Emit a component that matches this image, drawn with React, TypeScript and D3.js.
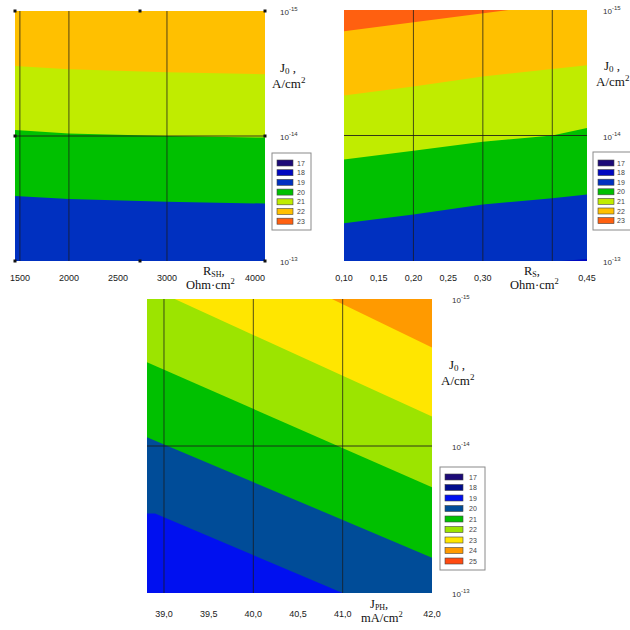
import React from 'react';
import * as d3 from 'd3';

// ---- shared J0 axis ----
const j0Domain = [1e-15, 1e-13];
const j0Ticks = [1e-15, 1e-14, 1e-13];
const j0Exp = ['-15', '-14', '-13'];

// ---- panel 1: R_SH, Ohm·cm² ----
const rshDomain = [1450, 4000];
const rshTicks = [1500, 2000, 2500, 3000, 4000];
const rshGrid = [1500, 2000, 3000];
const rsh_22_21 = [[1450, 2.75e-15], [2000, 2.92e-15], [3000, 3.09e-15], [4000, 3.2e-15]];
const rsh_21_20 = [[1450, 8.95e-15], [2000, 9.55e-15], [3000, 1.0e-14], [4000, 1.03e-14]];
const rsh_20_19 = [[1450, 3.02e-14], [2000, 3.19e-14], [3000, 3.36e-14], [4000, 3.47e-14]];
const levelsA = ['17', '18', '19', '20', '21', '22', '23'];
const colorsA = ['#1c0a78', '#0008c0', '#0030c0', '#00c000', '#c0ec00', '#ffc000', '#ff6010'];

// ---- panel 2: R_S, Ohm·cm² ----
const rsDomain = [0.1, 0.45];
const rsTicks = [0.1, 0.15, 0.2, 0.25, 0.3, 0.45];
const rsGrid = [0.2, 0.3, 0.4];
const rs_23_22 = [[0.1, 1.48e-15], [0.337, 1e-15]];
const rs_22_21 = [[0.1, 4.79e-15], [0.2, 4.07e-15], [0.3, 3.39e-15], [0.4, 2.95e-15], [0.45, 2.75e-15]];
const rs_21_20 = [[0.1, 1.55e-14], [0.2, 1.32e-14], [0.3, 1.12e-14], [0.4, 1.0e-14], [0.45, 8.7e-15]];
const rs_20_19 = [[0.1, 5.0e-14], [0.2, 4.27e-14], [0.3, 3.55e-14], [0.4, 3.16e-14], [0.45, 2.95e-14]];
const rs_19_18 = [[0.413, 1e-13], [0.45, 9.66e-14]];

// ---- panel 3: J_PH, mA/cm² ----
const jphDomain = [38.81, 42];
const jphTicks = [39, 39.5, 40, 40.5, 41, 42];
const jphGrid = [39, 40, 41];
const jph_24_23 = [[40.88, 1e-15], [42, 2.14e-15]];
const jph_23_22 = [[39.12, 1e-15], [42, 6.31e-15]];
const jph_22_21 = [[38.81, 2.69e-15], [42, 1.91e-14]];
const jph_21_20 = [[38.81, 8.71e-15], [42, 5.75e-14]];
const jph_20_19 = [[38.81, 2.88e-14], [38.9, 2.88e-14], [41.0, 1e-13]];
const levelsB = ['17', '18', '19', '20', '21', '22', '23', '24', '25'];
const colorsB = ['#1c0a78', '#000c8c', '#0010f0', '#004c98', '#00c000', '#9ce400', '#ffe600', '#ff9a00', '#ff4a10'];

const SANS = 'Arial, "Liberation Sans", sans-serif';
const SERIF = '"Times New Roman", "Liberation Serif", serif';

const Legend = ({ x, y, w, h, row0, step, swW, textX, levels, colors }) => (
  <g>
    <rect x={x} y={y} width={w} height={h} fill="#fff" stroke="#8a8a8a" strokeWidth={1} />
    {levels.map((l, i) => (
      <g key={l}>
        <rect x={x + 5} y={row0 + i * step - 3} width={swW} height={6} fill={colors[i]} stroke="#444" strokeWidth={0.6} />
        <text x={textX} y={row0 + i * step + 2.5} fontSize={7} fontFamily={SANS} fill="#444">{l}</text>
      </g>
    ))}
  </g>
);

const Panel = ({ id, box, xDomain, xTicks, xFmt, grid, bg, bands, lastEnd, yLabelX, tickY, children }) => {
  const x = d3.scaleLinear().domain(xDomain).range([box.x0, box.x1]);
  const y = d3.scaleLog().domain(j0Domain).range([box.y0, box.y1]);

  return (
    <g>
      <defs>
        <clipPath id={`clip-${id}`}>
          <rect x={box.x0} y={box.y0} width={box.x1 - box.x0} height={box.y1 - box.y0} />
        </clipPath>
      </defs>
      <g clipPath={`url(#clip-${id})`}>
        <rect x={box.x0} y={box.y0} width={box.x1 - box.x0} height={box.y1 - box.y0} fill={bg} />
        {bands.map((b, i) => {
          const area = d3
            .area()
            .x(d => x(d[0]))
            .y0(d => y(d[1]))
            .y1(b.side === 'above' ? box.y0 : box.y1);
          return <path key={i} d={area(b.pts)} fill={b.color} />;
        })}
        {grid.map(g => (
          <line key={g} x1={x(g)} x2={x(g)} y1={box.y0} y2={box.y1} stroke="#1a1a1a" strokeOpacity={0.75} strokeWidth={1} />
        ))}
        <line x1={box.x0} x2={box.x1} y1={y(1e-14)} y2={y(1e-14)} stroke="#1a1a1a" strokeOpacity={0.85} strokeWidth={1} />
      </g>
      {xTicks.map((t, i) => {
        const end = lastEnd && i === xTicks.length - 1;
        return (
          <text key={t} x={end ? box.x1 : x(t)} y={tickY} textAnchor={end ? 'end' : 'middle'}
            fontSize={9} fontFamily={SANS} fill="#1a1a1a">
            {xFmt(t).replace('.', ',')}
          </text>
        );
      })}
      {j0Ticks.map((t, i) => (
        <text key={t} x={yLabelX} y={y(t) + 4} fontSize={8} fontFamily={SANS} fill="#333">
          10<tspan fontSize={6} dy={-4}>{j0Exp[i]}</tspan>
        </text>
      ))}
      {children}
    </g>
  );
};

const J0Title = ({ x, y }) => (
  <g fontFamily={SERIF} fontSize={13} fill="#111">
    <text x={x + 8} y={y}>J<tspan fontSize={9} dy={2}>0</tspan><tspan dy={-2}> ,</tspan></text>
    <text x={x} y={y + 16}>A/cm<tspan fontSize={9} dy={-5}>2</tspan></text>
  </g>
);

const XTitle = ({ x, y, main, sub, unit, dx }) => (
  <g fontFamily={SERIF} fontSize={12.5} fill="#111">
    <text x={x + dx} y={y}>{main}<tspan fontSize={8} dy={1.5}>{sub}</tspan><tspan dy={-1.5}>,</tspan></text>
    <text x={x} y={y + 14}>{unit}<tspan fontSize={8.5} dy={-5}>2</tspan></text>
  </g>
);

export default function App() {
  const box1 = { x0: 15, x1: 265, y0: 11, y1: 261 };
  const box2 = { x0: 344, x1: 587, y0: 10, y1: 261 };
  const box3 = { x0: 147, x1: 432, y0: 299, y1: 593 };

  const bands1 = [
    { pts: rsh_21_20, side: 'above', color: colorsA[4] },
    { pts: rsh_22_21, side: 'above', color: colorsA[5] },
    { pts: rsh_20_19, side: 'below', color: colorsA[2] },
  ];
  const bands2 = [
    { pts: rs_21_20, side: 'above', color: colorsA[4] },
    { pts: rs_22_21, side: 'above', color: colorsA[5] },
    { pts: rs_23_22, side: 'above', color: colorsA[6] },
    { pts: rs_20_19, side: 'below', color: colorsA[2] },
    { pts: rs_19_18, side: 'below', color: colorsA[1] },
  ];
  const bands3 = [
    { pts: jph_22_21, side: 'above', color: colorsB[5] },
    { pts: jph_23_22, side: 'above', color: colorsB[6] },
    { pts: jph_24_23, side: 'above', color: colorsB[7] },
    { pts: jph_21_20, side: 'below', color: colorsB[3] },
    { pts: jph_20_19, side: 'below', color: colorsB[2] },
  ];

  const cornerTicks = [
    [box1.x0, box1.y0], [(box1.x0 + box1.x1) / 2, box1.y0], [box1.x1, box1.y0],
    [box1.x0, box1.y1], [(box1.x0 + box1.x1) / 2, box1.y1], [box1.x1, box1.y1],
    [box1.x0, (box1.y0 + box1.y1) / 2], [box1.x1, (box1.y0 + box1.y1) / 2],
  ];

  return (
    <div style={{ position: 'absolute', left: 0, top: 0 }}>
      <svg width={630} height={630} style={{ display: 'block', background: '#fff' }}>
        <Panel id="p1" box={box1} xDomain={rshDomain} xTicks={rshTicks} xFmt={d3.format('d')} grid={rshGrid}
          bg={colorsA[3]} bands={bands1} lastEnd yLabelX={280} tickY={281}>
          {cornerTicks.map((c, i) => (
            <rect key={i} x={c[0] - 1.5} y={c[1] - 1.5} width={3} height={3} fill="#111" />
          ))}
          <J0Title x={272} y={72} />
          <XTitle x={186} y={275} dx={17} main="R" sub="SH" unit="Ohm·cm" />
          <Legend x={272} y={153} w={39} h={77} row0={163} step={9.7} swW={16} textX={297} levels={levelsA} colors={colorsA} />
        </Panel>
        <Panel id="p2" box={box2} xDomain={rsDomain} xTicks={rsTicks} xFmt={d3.format('.2f')} grid={rsGrid}
          bg={colorsA[3]} bands={bands2} lastEnd={false} yLabelX={603} tickY={281}>
          <J0Title x={596} y={70} />
          <XTitle x={510} y={275} dx={14} main="R" sub="S" unit="Ohm·cm" />
          <Legend x={593} y={152} w={45} h={78} row0={163} step={9.6} swW={16} textX={617} levels={levelsA} colors={colorsA} />
        </Panel>
        <Panel id="p3" box={box3} xDomain={jphDomain} xTicks={jphTicks} xFmt={d3.format('.1f')} grid={jphGrid}
          bg={colorsB[4]} bands={bands3} lastEnd={false} yLabelX={452} tickY={617}>
          <J0Title x={441} y={369} />
          <XTitle x={361} y={608} dx={9} main="J" sub="PH" unit="mA/cm" />
          <Legend x={440} y={467} w={45} h={103} row0={477} step={10.5} swW={18} textX={469} levels={levelsB} colors={colorsB} />
        </Panel>
      </svg>
    </div>
  );
}
